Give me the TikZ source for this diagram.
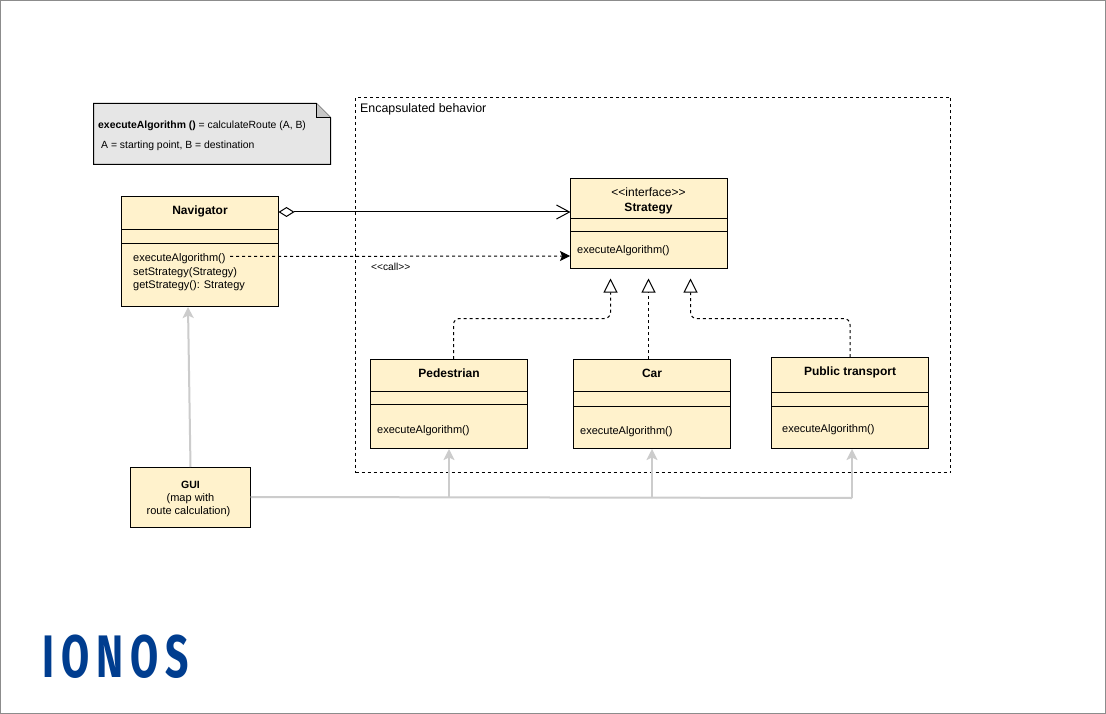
\documentclass[tikz,border=0pt]{standalone}
\usepackage{fontspec}
\setmainfont{Liberation Sans}
\newfontfamily\logofont[LetterSpace=17]{Fira Sans Bold}
\usetikzlibrary{arrows.meta}
\newcommand{\fs}[1]{\fontsize{#1}{#1}\selectfont}
\definecolor{classfill}{HTML}{FFF2CC}
\definecolor{notefill}{HTML}{E6E6E6}
\definecolor{guide}{HTML}{CCCCCC}
\definecolor{ionos}{HTML}{003D8F}
\tikzset{
  cls/.style={draw=black,fill=classfill,line width=1pt,anchor=north west,inner sep=0pt,outer sep=0pt},
  ttl/.style={font=\fs{12}\bfseries,inner sep=0pt,anchor=center},
  mth/.style={font=\fs{11},inner sep=0pt,anchor=west},
  sep/.style={black,line width=1pt},
  realize/.style={black,line width=1pt,dash pattern=on 3pt off 3pt,rounded corners=6pt,
     -{Triangle[open,fill=white,length=14pt,width=14pt,line width=1pt]}},
  guiarrow/.style={guide,line width=2pt,-{Stealth[length=11pt,width=11pt,inset=2.5pt]}},
}
\begin{document}
\begin{tikzpicture}[x=1pt,y=-1pt,line join=miter]
\useasboundingbox (0,0) rectangle (1106,714);
\draw[draw=black!45,line width=1pt,fill=white] (0.5,0.5) rectangle (1105.5,713.5);

% encapsulated behaviour frame
\node[draw=black,line width=1pt,dash pattern=on 3pt off 3pt,anchor=north west,inner sep=0pt,outer sep=0pt,
  minimum width=595pt,minimum height=375pt] (frame) at (355.5,97.5) {};
\node[font=\fs{12.4},anchor=west,inner sep=0pt] (frametitle) at (360,109) {Encapsulated behavior};

% note
\draw[black,line width=1pt,fill=notefill] (93.5,103.5) -- (316.5,103.5) -- (330.5,117.5) -- (330.5,164.5) -- (93.5,164.5) -- cycle;
\draw[black,line width=1pt,fill=notefill!70!gray] (316.5,103.5) -- (316.5,117.5) -- (330.5,117.5);
\node[font=\fs{10.4},anchor=west,inner sep=0pt] (note1) at (98,125.5) {\textbf{executeAlgorithm ()} = calculateRoute (A, B)};
\node[font=\fs{10.4},anchor=west,inner sep=0pt] (note2) at (101,145.5) {A = starting point, B = destination};

% Navigator
\node[cls,minimum width=157pt,minimum height=110pt] (nav) at (121.5,196.5) {};
\node[ttl] (navt) at (200,211) {Navigator};
\draw[sep] (121.5,229.5) -- (278.5,229.5) (121.5,243.5) -- (278.5,243.5);
\node[mth] (navm1) at (133,259) {executeAlgorithm()};
\node[mth] (navm2) at (133,273) {setStrategy(Strategy)};
\node[mth] (navm3) at (133,286) {getStrategy(): Strategy};

% Strategy
\node[cls,minimum width=157pt,minimum height=90pt] (str) at (570.5,178.5) {};
\node[font=\fs{12},inner sep=0pt] (strs) at (648.5,192.5) {<{}<interface>{}>};
\node[ttl] (strt) at (648.5,209) {Strategy};
\draw[sep] (570.5,218.5) -- (727.5,218.5) (570.5,231.5) -- (727.5,231.5);
\node[mth] (strm) at (577,251) {executeAlgorithm()};

% Pedestrian
\node[cls,minimum width=157pt,minimum height=89pt] (ped) at (370.5,359.5) {};
\node[ttl] (pedt) at (449,373) {Pedestrian};
\draw[sep] (370.5,391.5) -- (527.5,391.5) (370.5,404.5) -- (527.5,404.5);
\node[mth] (pedm) at (377,431) {executeAlgorithm()};

% Car
\node[cls,minimum width=157pt,minimum height=89pt] (car) at (573.5,359.5) {};
\node[ttl] (cart) at (652,373) {Car};
\draw[sep] (573.5,391.5) -- (730.5,391.5) (573.5,406.5) -- (730.5,406.5);
\node[mth] (carm) at (580,432) {executeAlgorithm()};

% Public transport
\node[cls,minimum width=157pt,minimum height=91pt] (pub) at (771.5,357.5) {};
\node[ttl] (pubt) at (850,372.5) {Public transport};
\draw[sep] (771.5,392.5) -- (928.5,392.5) (771.5,406.5) -- (928.5,406.5);
\node[mth] (pubm) at (782,430) {executeAlgorithm()};

% GUI
\node[cls,minimum width=120pt,minimum height=60pt] (gui) at (130.5,467.5) {};
\node[font=\fs{10.5}\bfseries,inner sep=0pt] (guia) at (190.5,484.5) {GUI};
\node[font=\fs{11},inner sep=0pt] (guib) at (190.5,498.5) {(map with};
\node[font=\fs{11},inner sep=0pt] (guic) at (188.5,512) {route calculation)};

% connector anchors
\coordinate (aggS) at (nav.east |- 0,212);
\coordinate (aggE) at (str.west |- 0,212);
\coordinate (callS) at (230,256.5);
\coordinate (callE) at (570,256);
\coordinate (tipA) at (610.5,278.5);
\coordinate (tipB) at (648.5,278.5);
\coordinate (tipC) at (690.5,278.5);
\coordinate (pedN) at (453.5,359);
\coordinate (carN) at (648.5,359);
\coordinate (pubN) at (850,357);
\coordinate (guiN) at (190.5,467);
\coordinate (navS) at (188,307);
\coordinate (busE) at (852,498);
\coordinate (busA) at (449,497.5);
\coordinate (busB) at (652,497.7);
\coordinate (pedS) at (449,449);
\coordinate (carS) at (652,449);
\coordinate (pubS) at (852,449);

% connectors
\draw[black,line width=1pt,{Diamond[open,fill=white,length=16pt,width=10pt,line width=1pt]}-{Straight Barb[length=13pt,width=14pt,line width=1pt]}] (aggS) -- (aggE);
\draw[black,line width=1pt,dash pattern=on 3pt off 3pt,-{Stealth[length=10pt,width=10pt,inset=2pt]}] (callS) -- (callE);
\node[font=\fs{10.2},anchor=west,inner sep=0pt] (call) at (371,267) {<{}<call>{}>};

\draw[realize] (pedN) -- (453.5,318.5) -- (610.5,318.5) -- (tipA);
\draw[realize] (carN) -- (tipB);
\draw[realize] (pubN) -- (850,318.5) -- (690.5,318.5) -- (tipC);

\draw[guiarrow] (guiN) -- (navS);
\draw[guide,line width=2pt] (gui.east |- 0,497) -- (busE);
\draw[guiarrow] (busA) -- (pedS);
\draw[guiarrow] (busB) -- (carS);
\draw[guiarrow] (busE) -- (pubS);

% logo
\node[font=\logofont\fs{60},text=ionos,inner sep=0pt,anchor=base west,xscale=0.68] (logo) at (42.7,677) {IONOS};
\end{tikzpicture}
\end{document}
